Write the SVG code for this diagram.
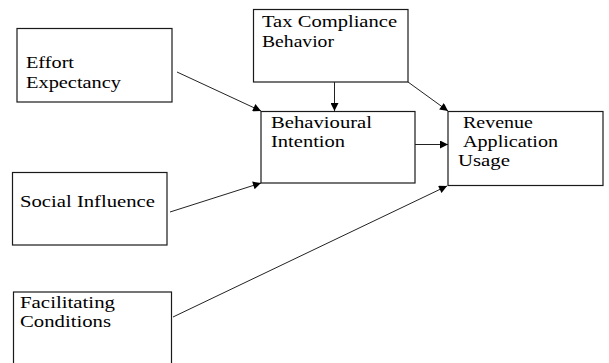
<svg xmlns="http://www.w3.org/2000/svg" width="609" height="363" viewBox="0 0 609 363">
<defs>
<marker id="ah" viewBox="0 0 10 10" refX="10" refY="5" markerWidth="9" markerHeight="8" markerUnits="userSpaceOnUse" orient="auto">
<path d="M0,0 L10,5 L0,10 Z" fill="#000"/>
</marker>
<style>
rect{fill:#fff;stroke:#1a1a1a;stroke-width:1.2}
text{font-family:"Liberation Serif","Times New Roman",serif;font-size:16.5px;fill:#000}
.c line{stroke:#222;stroke-width:1;marker-end:url(#ah)}
</style>
</defs>
<rect x="0" y="0" width="609" height="363" style="fill:#fff;stroke:none"/>
<g id="effort">
<rect x="17" y="28.5" width="155" height="73.5"/>
<text transform="translate(26,68) scale(1.2,1)" textLength="40" lengthAdjust="spacingAndGlyphs">Effort</text>
<text transform="translate(26,88) scale(1.2,1)" textLength="79.2" lengthAdjust="spacingAndGlyphs">Expectancy</text>
</g>
<g id="tax">
<rect x="253.5" y="9.5" width="154.5" height="72.5"/>
<text transform="translate(262,27) scale(1.2,1)" textLength="112.5" lengthAdjust="spacingAndGlyphs">Tax Compliance</text>
<text transform="translate(262,47) scale(1.2,1)" textLength="60" lengthAdjust="spacingAndGlyphs">Behavior</text>
</g>
<g id="bi">
<rect x="261" y="111.5" width="154" height="71.5"/>
<text transform="translate(271,127.5) scale(1.2,1)" textLength="84.2" lengthAdjust="spacingAndGlyphs">Behavioural</text>
<text transform="translate(271,147) scale(1.2,1)" textLength="61.7" lengthAdjust="spacingAndGlyphs">Intention</text>
</g>
<g id="rau">
<rect x="448" y="111.5" width="155" height="74"/>
<text transform="translate(463,127.5) scale(1.2,1)" textLength="58.3" lengthAdjust="spacingAndGlyphs">Revenue</text>
<text transform="translate(463,147) scale(1.2,1)" textLength="79.2" lengthAdjust="spacingAndGlyphs">Application</text>
<text transform="translate(458,166) scale(1.2,1)" textLength="43.3" lengthAdjust="spacingAndGlyphs">Usage</text>
</g>
<g id="social">
<rect x="12.5" y="172.5" width="154.5" height="72.5"/>
<text transform="translate(20,207) scale(1.2,1)" textLength="112.5" lengthAdjust="spacingAndGlyphs">Social Influence</text>
</g>
<g id="facilitating">
<rect x="13.5" y="292" width="158" height="80"/>
<text transform="translate(20,308) scale(1.2,1)" textLength="79.2" lengthAdjust="spacingAndGlyphs">Facilitating</text>
<text transform="translate(20,327) scale(1.2,1)" textLength="75.8" lengthAdjust="spacingAndGlyphs">Conditions</text>
</g>
<g class="c" id="connectors">
<line x1="177" y1="72" x2="261" y2="111"/>
<line x1="170" y1="212" x2="261" y2="183"/>
<line x1="334.5" y1="82" x2="334.5" y2="111"/>
<line x1="408" y1="82" x2="448" y2="111"/>
<line x1="415" y1="144.5" x2="448" y2="144.5"/>
<line x1="173" y1="317" x2="447" y2="186"/>
</g>
</svg>
